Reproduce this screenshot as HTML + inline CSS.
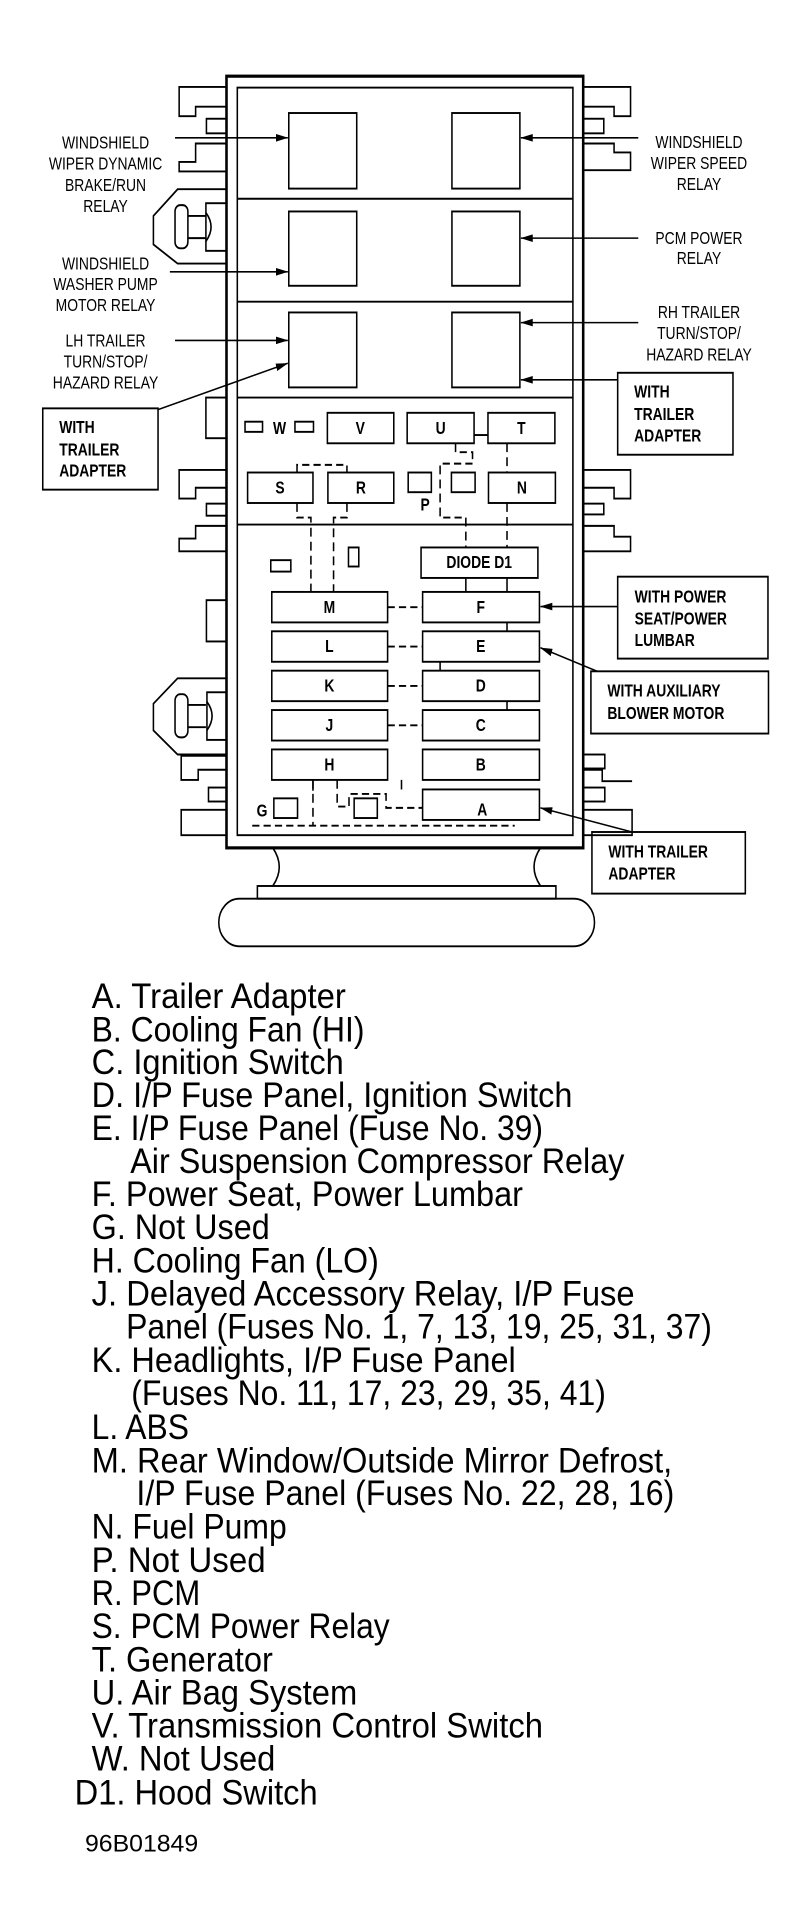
<!DOCTYPE html>
<html><head><meta charset="utf-8"><style>
html,body{margin:0;padding:0;background:#fff;}
svg{display:block;}
text{font-family:"Liberation Sans",Arial,sans-serif;fill:#000;}
.lb{font-size:27px;text-anchor:middle;}
.bx{font-size:27px;font-weight:bold;}
.fl{font-size:27px;font-weight:bold;text-anchor:middle;}
.ls{font-size:56px;}
</style></head><body>
<svg width="803" height="1925" viewBox="0 0 1560 3740" xmlns="http://www.w3.org/2000/svg">
<defs>
<marker id="ab" markerWidth="24" markerHeight="14" refX="23" refY="7" orient="auto" markerUnits="userSpaceOnUse" viewBox="0 0 24 14"><path d="M0,1 L24,7 L0,13 Z" fill="#000"/></marker></defs>
<g transform="translate(0,148) scale(1,1.234) translate(0,-120)">
<g fill="none" stroke="#000" stroke-width="3">
<path d="M440,137 H348 V183 H380 V168 H440"/>
<rect x="401" y="187" width="39" height="23"/>
<path d="M440,226 H380 V255 H348 V270 H440"/>
<path d="M440,298 H345 L298,340 V385 L345,415 H440"/>
<rect x="340" y="323" width="25" height="68" rx="10"/><path d="M365,340 H400 M365,375 H400"/><rect x="400" y="320" width="40" height="75"/><path d="M400,335 Q420,357 400,380"/>
<rect x="400" y="626" width="40" height="64"/>
<path d="M440,740 H348 V785 H380 V768 H440"/>
<rect x="401" y="793" width="39" height="19"/>
<path d="M440,828 H380 V848 H348 V868 H440"/>
<rect x="401" y="945" width="39" height="65"/>
<path d="M440,1068 H345 L298,1108 V1150 L345,1188 H440"/>
<rect x="340" y="1093" width="25" height="68" rx="10"/><path d="M365,1110 H400 M365,1145 H400"/><rect x="402" y="1090" width="38" height="75"/><path d="M402,1105 Q422,1127 402,1150"/>
<path d="M440,1190 H352 V1228 H385 V1212 H440"/>
<rect x="405" y="1240" width="35" height="22"/>
<path d="M440,1275 H352 V1315 H440"/>
<path d="M1133,137 H1225 V183 H1193 V168 H1133"/>
<rect x="1133" y="187" width="40" height="23"/>
<path d="M1133,226 H1193 V240 H1225 V268 H1133"/>
<path d="M1133,740 H1225 V785 H1193 V768 H1133"/>
<rect x="1133" y="793" width="40" height="17"/>
<path d="M1133,828 H1193 V845 H1225 V868 H1133"/>
<rect x="1133" y="1188" width="42" height="22"/>
<path d="M1133,1212 H1170 V1230 H1228"/>
<rect x="1133" y="1240" width="42" height="22"/>
<path d="M1133,1275 H1228 V1315 H1133"/>
<path d="M530,1335 Q555,1365 530,1395 M1050,1335 Q1025,1365 1050,1395"/>
<rect x="500" y="1395" width="580" height="20"/>
<rect x="425" y="1415" width="730" height="75" rx="40"/>
</g>
<rect x="440" y="120" width="693" height="1215" fill="#fff" stroke="#000" stroke-width="5"/>
<rect x="461" y="138" width="652" height="1177" fill="none" stroke="#000" stroke-width="3"/>
<g stroke="#000" stroke-width="3" fill="none">
<path d="M461,313 H1113 M461,475 H1113 M461,626 H1113 M461,826 H1113"/>
<rect x="561" y="178" width="132" height="119"/><rect x="878" y="178" width="132" height="119"/>
<rect x="561" y="333" width="132" height="117"/><rect x="878" y="333" width="132" height="117"/>
<rect x="561" y="492" width="132" height="118"/><rect x="878" y="492" width="132" height="118"/>
<rect x="83" y="643" width="224" height="128"/>
<rect x="1200" y="587" width="224" height="129"/>
<rect x="1200" y="908" width="292" height="129"/>
<rect x="1148" y="1057" width="345" height="98"/>
<rect x="1150" y="1310" width="298" height="97"/>
<rect x="476" y="664" width="34" height="16"/><rect x="573" y="664" width="36" height="16"/>
<rect x="636" y="650" width="129" height="48"/><rect x="791" y="650" width="130" height="48"/><rect x="948" y="650" width="130" height="48"/>
<rect x="481" y="744" width="127" height="48"/><rect x="637" y="744" width="128" height="48"/>
<rect x="793" y="744" width="45" height="31"/><rect x="877" y="744" width="46" height="31"/>
<rect x="949" y="744" width="130" height="48"/>
<rect x="818" y="862" width="227" height="48"/>
<rect x="526" y="882" width="39" height="18"/><rect x="677" y="862" width="20" height="30"/>
<rect x="528" y="932" width="225" height="48"/><rect x="821" y="932" width="227" height="48"/>
<rect x="528" y="994" width="225" height="48"/><rect x="821" y="994" width="227" height="48"/>
<rect x="528" y="1056" width="225" height="48"/><rect x="821" y="1056" width="227" height="48"/>
<rect x="528" y="1118" width="225" height="48"/><rect x="821" y="1118" width="227" height="48"/>
<rect x="528" y="1180" width="225" height="48"/><rect x="821" y="1180" width="227" height="48"/>
<rect x="821" y="1243" width="227" height="48"/>
<rect x="532" y="1257" width="46" height="31"/><rect x="688" y="1257" width="45" height="31"/>
<path d="M921,685 H948"/>
<path d="M905,910 V932 M985,910 V932 M985,980 V994 M855,1042 V1056 M985,1104 V1118 M608,1228 V1245 M780,1228 V1243"/>
</g>
<g stroke="#000" stroke-width="3" fill="none" stroke-dasharray="14,8">
<path d="M577,744 V732 H674 V744"/>
<path d="M577,792 V815 H604 V932"/>
<path d="M674,792 V815 H648 V932"/>
<path d="M885,698 V712 H918 V725"/>
<path d="M918,730 H855 V815 H905 V862"/>
<path d="M985,698 V744 M985,792 V862"/>
<path d="M753,956 H821 M753,1018 H821 M753,1080 H821 M753,1142 H821"/>
<path d="M608,1228 V1300 M490,1300 H1000"/>
<path d="M655,1228 V1270 H678 V1250 H750 V1272 H821"/>
</g>
<g stroke="#000" stroke-width="2.5" fill="none">
<path d="M340,217 H559" marker-end="url(#ab)"/>
<path d="M330,428 H559" marker-end="url(#ab)"/>
<path d="M340,536 H559" marker-end="url(#ab)"/>
<path d="M307,645 L559,572" marker-end="url(#ab)"/>
<path d="M1240,217 H1012" marker-end="url(#ab)"/>
<path d="M1240,375 H1012" marker-end="url(#ab)"/>
<path d="M1240,508 H1012" marker-end="url(#ab)"/>
<path d="M1200,598 H1012" marker-end="url(#ab)"/>
<path d="M1200,955 H1050" marker-end="url(#ab)"/>
<path d="M1160,1057 L1050,1020" marker-end="url(#ab)"/>
<path d="M1228,1310 L1050,1272" marker-end="url(#ab)"/>
</g>
<g class="lb">
<text x="205" y="234">WINDSHIELD</text><text x="205" y="267">WIPER DYNAMIC</text><text x="205" y="301">BRAKE/RUN</text><text x="205" y="334">RELAY</text>
<text x="205" y="424">WINDSHIELD</text><text x="205" y="457">WASHER PUMP</text><text x="205" y="490">MOTOR RELAY</text>
<text x="205" y="546">LH TRAILER</text><text x="205" y="579">TURN/STOP/</text><text x="205" y="612">HAZARD  RELAY</text>
<text x="1358" y="233">WINDSHIELD</text><text x="1358" y="266">WIPER SPEED</text><text x="1358" y="299">RELAY</text>
<text x="1358" y="384">PCM POWER</text><text x="1358" y="416">RELAY</text>
<text x="1358" y="501">RH TRAILER</text><text x="1358" y="534">TURN/STOP/</text><text x="1358" y="568">HAZARD  RELAY</text>
</g>
<g class="bx">
<text x="115" y="682">WITH</text><text x="115" y="717">TRAILER</text><text x="115" y="750">ADAPTER</text>
<text x="1232" y="626">WITH</text><text x="1232" y="661">TRAILER</text><text x="1232" y="695">ADAPTER</text>
<text x="1233" y="949">WITH POWER</text><text x="1233" y="983">SEAT/POWER</text><text x="1233" y="1017">LUMBAR</text>
<text x="1180" y="1097">WITH AUXILIARY</text><text x="1180" y="1132">BLOWER MOTOR</text>
<text x="1182" y="1350">WITH TRAILER</text><text x="1182" y="1385">ADAPTER</text>
</g>
<g class="fl">
<text x="543" y="683">W</text><text x="700" y="683">V</text><text x="856" y="683">U</text><text x="1013" y="683">T</text>
<text x="544" y="777">S</text><text x="701" y="777">R</text><text x="826" y="804">P</text><text x="1014" y="777">N</text>
<text x="931" y="894">DIODE D1</text>
<text x="640" y="965">M</text><text x="934" y="965">F</text>
<text x="640" y="1027">L</text><text x="934" y="1027">E</text>
<text x="640" y="1089">K</text><text x="934" y="1089">D</text>
<text x="640" y="1151">J</text><text x="934" y="1151">C</text>
<text x="640" y="1213">H</text><text x="934" y="1213">B</text>
<text x="509" y="1286">G</text><text x="937" y="1284">A</text>
</g>
</g>
<g class="ls" transform="translate(0,1958) scale(1,1.21) translate(0,-1938)">
<text x="178" y="1938" textLength="494" lengthAdjust="spacingAndGlyphs">A. Trailer Adapter</text>
<text x="178" y="1992" textLength="530" lengthAdjust="spacingAndGlyphs">B. Cooling Fan (HI)</text>
<text x="178" y="2044" textLength="490" lengthAdjust="spacingAndGlyphs">C. Ignition Switch</text>
<text x="178" y="2097" textLength="934" lengthAdjust="spacingAndGlyphs">D. I/P Fuse Panel, Ignition Switch</text>
<text x="178" y="2150" textLength="877" lengthAdjust="spacingAndGlyphs">E. I/P Fuse Panel (Fuse No. 39)</text>
<text x="253" y="2203" textLength="960" lengthAdjust="spacingAndGlyphs">Air Suspension Compressor Relay</text>
<text x="178" y="2256" textLength="838" lengthAdjust="spacingAndGlyphs">F. Power Seat, Power Lumbar</text>
<text x="178" y="2309" textLength="346" lengthAdjust="spacingAndGlyphs">G. Not Used</text>
<text x="178" y="2363" textLength="558" lengthAdjust="spacingAndGlyphs">H. Cooling Fan (LO)</text>
<text x="178" y="2416" textLength="1055" lengthAdjust="spacingAndGlyphs">J. Delayed Accessory Relay, I/P Fuse</text>
<text x="245" y="2469" textLength="1138" lengthAdjust="spacingAndGlyphs">Panel (Fuses No. 1, 7, 13, 19, 25, 31, 37)</text>
<text x="178" y="2523" textLength="824" lengthAdjust="spacingAndGlyphs">K. Headlights, I/P Fuse Panel</text>
<text x="255" y="2576" textLength="922" lengthAdjust="spacingAndGlyphs">(Fuses No. 11, 17, 23, 29, 35, 41)</text>
<text x="178" y="2630" textLength="189" lengthAdjust="spacingAndGlyphs">L. ABS</text>
<text x="178" y="2684" textLength="1128" lengthAdjust="spacingAndGlyphs">M. Rear Window/Outside Mirror Defrost,</text>
<text x="265" y="2736" textLength="1045" lengthAdjust="spacingAndGlyphs">I/P Fuse Panel (Fuses No. 22, 28, 16)</text>
<text x="178" y="2790" textLength="379" lengthAdjust="spacingAndGlyphs">N. Fuel Pump</text>
<text x="178" y="2844" textLength="338" lengthAdjust="spacingAndGlyphs">P. Not Used</text>
<text x="178" y="2897" textLength="211" lengthAdjust="spacingAndGlyphs">R. PCM</text>
<text x="178" y="2950" textLength="579" lengthAdjust="spacingAndGlyphs">S. PCM Power Relay</text>
<text x="178" y="3004" textLength="352" lengthAdjust="spacingAndGlyphs">T. Generator</text>
<text x="178" y="3057" textLength="516" lengthAdjust="spacingAndGlyphs">U. Air Bag System</text>
<text x="178" y="3110" textLength="877" lengthAdjust="spacingAndGlyphs">V. Transmission Control Switch</text>
<text x="178" y="3163" textLength="357" lengthAdjust="spacingAndGlyphs">W. Not Used</text>
<text x="145" y="3217" textLength="472" lengthAdjust="spacingAndGlyphs">D1. Hood Switch</text>
<text x="165" y="3293" style="font-size:38px" textLength="220" lengthAdjust="spacingAndGlyphs">96B01849</text>
</g>
</svg>
</body></html>
